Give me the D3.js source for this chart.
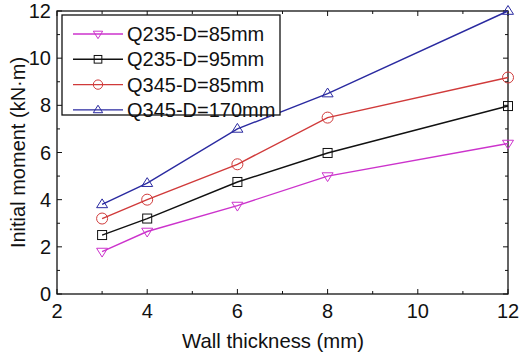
<!DOCTYPE html>
<html>
<head>
<meta charset="utf-8">
<script src="https://cdn.jsdelivr.net/npm/d3@7"></script>
<style>
  body { margin: 0; background: #fff; }
  text { font-family: "Liberation Sans", Arial, sans-serif; fill: #111; }
</style>
</head>
<body>
<svg id="chart" width="520" height="353"></svg>
<script>
// data
var thickness = [3, 4, 6, 8, 12];
var seriesNames = ['Q235-D=85mm', 'Q235-D=95mm', 'Q345-D=85mm', 'Q345-D=170mm'];
var q235d85 = [1.8, 2.65, 3.75, 5.0, 6.38];
var q235d95 = [2.5, 3.2, 4.75, 5.98, 7.97];
var q345d85 = [3.2, 4.0, 5.5, 7.48, 9.18];
var q345d170 = [3.8, 4.7, 7.0, 8.5, 12.0];
var xTicks = [2, 4, 6, 8, 10, 12];
var yTicks = [0, 2, 4, 6, 8, 10, 12];

var colors = ['#cc33cc', '#111111', '#d03a3a', '#2a2aa0'];
var symbols = ['tridown', 'square', 'circle', 'triangle'];
var values = [q235d85, q235d95, q345d85, q345d170];

var svg = d3.select('#chart');
var pLeft = 57, pRight = 508, pTop = 11, pBottom = 294;

var x = d3.scaleLinear().domain([2, 12]).range([pLeft, pRight]);
var y = d3.scaleLinear().domain([0, 12]).range([pBottom, pTop]);

// frame
svg.append('rect')
  .attr('x', pLeft).attr('y', pTop)
  .attr('width', pRight - pLeft).attr('height', pBottom - pTop)
  .attr('fill', 'none').attr('stroke', '#111').attr('stroke-width', 1.3);

// inner ticks, major and minor, on all four sides
function xticks(vals, len) {
  vals.forEach(function (v) {
    svg.append('line').attr('x1', x(v)).attr('x2', x(v)).attr('y1', pBottom).attr('y2', pBottom - len).attr('stroke', '#111');
    svg.append('line').attr('x1', x(v)).attr('x2', x(v)).attr('y1', pTop).attr('y2', pTop + len).attr('stroke', '#111');
  });
}
function yticks(vals, len) {
  vals.forEach(function (v) {
    svg.append('line').attr('y1', y(v)).attr('y2', y(v)).attr('x1', pLeft).attr('x2', pLeft + len).attr('stroke', '#111');
    svg.append('line').attr('y1', y(v)).attr('y2', y(v)).attr('x1', pRight).attr('x2', pRight - len).attr('stroke', '#111');
  });
}
xticks(xTicks, 5);
xticks([3, 5, 7, 9, 11], 3);
yticks(yTicks, 5);
yticks([1, 3, 5, 7, 9, 11], 3);

// tick labels
xTicks.forEach(function (v) {
  svg.append('text').attr('x', x(v)).attr('y', 318)
    .attr('text-anchor', 'middle').style('font-size', '20px').text(v);
});
yTicks.forEach(function (v) {
  svg.append('text').attr('x', pLeft - 6).attr('y', y(v) + 7)
    .attr('text-anchor', 'end').style('font-size', '20px').text(v);
});

// axis titles
svg.append('text').attr('x', 273).attr('y', 348)
  .attr('text-anchor', 'middle').style('font-size', '20.3px').text('Wall thickness (mm)');
svg.append('text')
  .attr('transform', 'translate(25,' + ((pTop + pBottom) / 2) + ') rotate(-90)')
  .attr('text-anchor', 'middle').style('font-size', '20px').text('Initial moment (kN\u00b7m)');

function marker(g, kind, cx, cy, color, sc) {
  var s = 5.5 * sc;
  if (kind == 'square') {
    g.append('rect').attr('x', cx - 4.5 * sc).attr('y', cy - 4.5 * sc).attr('width', 9 * sc).attr('height', 9 * sc)
      .attr('fill', 'none').attr('stroke', color);
  } else if (kind == 'circle') {
    g.append('circle').attr('cx', cx).attr('cy', cy).attr('r', 5.5 * sc)
      .attr('fill', 'none').attr('stroke', color);
  } else {
    var d = kind == 'triangle' ? -1 : 1;
    var pts = [[cx - s, cy - d * s * 0.6], [cx + s, cy - d * s * 0.6], [cx, cy + d * s * 1.0]];
    g.append('path').attr('d', 'M' + pts.join('L') + 'Z')
      .attr('fill', 'none').attr('stroke', color);
  }
}

var line = d3.line()
  .x(function (d) { return x(d[0]); })
  .y(function (d) { return y(d[1]); });

values.forEach(function (vals, i) {
  var pts = thickness.map(function (t, j) { return [t, vals[j]]; });
  var g = svg.append('g');
  g.append('path').attr('d', line(pts))
    .attr('fill', 'none').attr('stroke', colors[i]).attr('stroke-width', 1.4);
  pts.forEach(function (p) {
    marker(g, symbols[i], x(p[0]), y(p[1]), colors[i], 1);
  });
});

// legend
var lg = svg.append('g');
lg.append('rect').attr('x', 62).attr('y', 15).attr('width', 218).attr('height', 100)
  .attr('fill', '#fff').attr('stroke', '#111').attr('stroke-width', 1.3);
seriesNames.forEach(function (name, i) {
  var ly = 34 + i * 25.3;
  lg.append('line').attr('x1', 73).attr('x2', 123).attr('y1', ly).attr('y2', ly)
    .attr('stroke', colors[i]).attr('stroke-width', 1.4);
  marker(lg, symbols[i], 98, ly, colors[i], 0.85);
  lg.append('text').attr('x', 127).attr('y', ly + 7)
    .style('font-size', '20px').text(name);
});
</script>
</body>
</html>
